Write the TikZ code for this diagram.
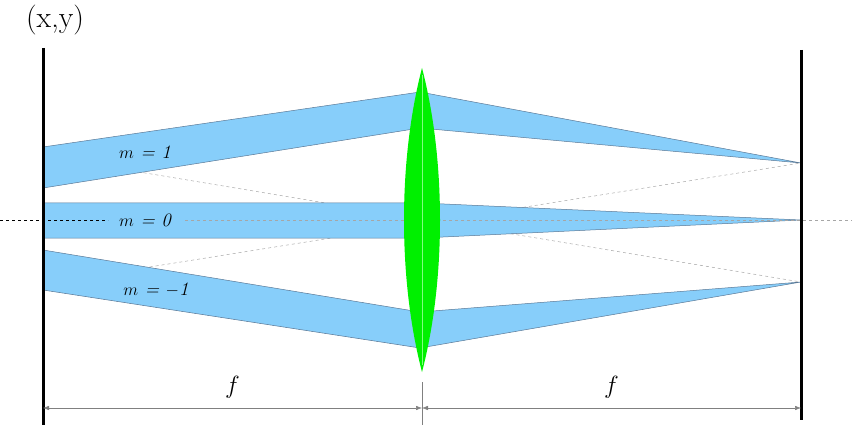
\documentclass[tikz,border=0pt]{standalone}
\usetikzlibrary{arrows.meta}
\definecolor{beamblue}{RGB}{135,206,250}
\definecolor{beamedge}{RGB}{90,120,150}
\definecolor{lensgreen}{RGB}{0,240,0}
\begin{document}
\begin{tikzpicture}[x=1pt, y=-1pt, >=Latex,
    beam/.style={fill=beamblue, draw=beamedge, line width=0.5pt},
    chief/.style={draw=gray!70, dashed, line width=0.5pt},
    plate/.style={line width=3pt},
    dim/.style={draw=gray, line width=0.5pt, {Latex[length=6pt]}-{Latex[length=6pt]}},
    mlabel/.style={font=\fontsize{19}{19}\selectfont\itshape}]
    \useasboundingbox (0,0) rectangle (852,425);
    % Hauptstrahlen durch die Linsenmitte
    \coordinate (lc) at (422,220);
    \coordinate (fup) at (801,163);
    \coordinate (fdn) at (801,282);
    \coordinate (fmid) at (801,220);
    \draw[chief] (43,156) -- (fdn);
    \draw[chief] (43,284) -- (fup);
    % Strahlenbuendel
    \draw[beam] (43,147) -- (420,92) -- (fup) -- (420,128) -- (43,188) -- cycle;
    \draw[beam] (43,203) -- (422,203) -- (fmid) -- (422,238) -- (43,238) -- cycle;
    \draw[beam] (43,250) -- (420,312) -- (fdn) -- (420,348) -- (43,290) -- cycle;
    % optische Achse
    \draw[dashed, line width=0.6pt] (0,220) -- (108,220);
    \draw[chief] (185,220) -- (852,220);
    % Linse
    \path[fill=lensgreen] (422,68) .. controls (398,160) and (398,280) .. (422,372)
        .. controls (446,280) and (446,160) .. (422,68);
    \draw[green!50!white, line width=0.5pt] (422,75) -- (422,365);
    % Ebenen
    \draw[plate] (43,48) -- (43,425);
    \draw[plate] (801,50) -- (801,420);
    \node[font=\fontsize{30}{30}\selectfont] (xy) at (55,20) {(x,y)};
    % Ordnungen
    \node[mlabel] (m1) at (145,152) {$m$ = 1};
    \node[mlabel] (m0) at (145,220) {$m$ = 0};
    \node[mlabel] (mm1) at (156,290) {$m$ = $-$1};
    % Brennweiten
    \coordinate (dl) at (43,408);
    \coordinate (dc) at (422,408);
    \coordinate (dr) at (801,408);
    \draw[gray, line width=0.5pt] (422,382) -- (422,425);
    \draw[dim] (dl) -- (dc) node[midway, above=6pt, font=\fontsize{34}{34}\selectfont] {$f$};
    \draw[dim] (dc) -- (dr) node[midway, above=6pt, font=\fontsize{34}{34}\selectfont] {$f$};
\end{tikzpicture}
\end{document}
